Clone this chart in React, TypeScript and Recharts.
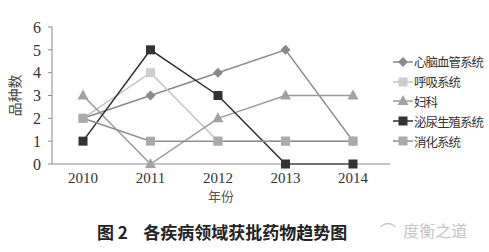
import { LineChart, Line, XAxis, YAxis, Label } from 'recharts';

const years = ['2010', '2011', '2012', '2013', '2014'];
const cardio = [2, 3, 4, 5, 1];
const respiratory = [2, 4, 1, 1, 1];
const gynecology = [3, 0, 2, 3, 3];
const urogenital = [1, 5, 3, 0, 0];
const digestive = [2, 1, 1, 1, 1];
const yTicks = [0, 1, 2, 3, 4, 5, 6];

const series = [
  { key: 'cardio', name: '心脑血管系统', values: cardio, stroke: '#8a8a8a', fill: '#8a8a8a', shape: 'diamond' },
  { key: 'respiratory', name: '呼吸系统', values: respiratory, stroke: '#c4c4c4', fill: '#cdcdcd', shape: 'square' },
  { key: 'gynecology', name: '妇科', values: gynecology, stroke: '#9c9c9c', fill: '#a2a2a2', shape: 'triangle' },
  { key: 'urogenital', name: '泌尿生殖系统', values: urogenital, stroke: '#2e2e2e', fill: '#333333', shape: 'square' },
  { key: 'digestive', name: '消化系统', values: digestive, stroke: '#8f8f8f', fill: '#aaaaaa', shape: 'square' }
];

const chartData = years.map((year, i) => {
  const row: Record<string, string | number> = { year };
  series.forEach((s) => {
    row[s.key] = s.values[i];
  });
  return row;
});

const Marker = ({ cx, cy, shape, fill }: { cx: number; cy: number; shape: string; fill: string }) => {
  if (cx == null || cy == null) return null;
  if (shape === 'diamond') {
    return <path d={`M${cx},${cy - 5}L${cx + 5},${cy}L${cx},${cy + 5}L${cx - 5},${cy}Z`} fill={fill} />;
  }
  if (shape === 'triangle') {
    return <path d={`M${cx},${cy - 6}L${cx + 5.5},${cy + 4}L${cx - 5.5},${cy + 4}Z`} fill={fill} />;
  }
  return <rect x={cx - 4.5} y={cy - 4.5} width={9} height={9} fill={fill} />;
};

const LegendBox = () => (
  <div
    style={{
      position: 'absolute',
      left: 393,
      top: 52,
      fontFamily: '"Noto Sans CJK SC", serif',
      fontSize: 12.5,
      letterSpacing: -1,
      color: '#333',
      whiteSpace: 'nowrap'
    }}
  >
    {series.map((s) => (
      <div key={s.key} style={{ display: 'flex', alignItems: 'center', height: 19.8 }}>
        <svg width={20} height={14}>
          <line x1={0} y1={7} x2={20} y2={7} stroke={s.stroke} strokeWidth={1.5} />
          <Marker cx={10} cy={7} shape={s.shape} fill={s.fill} />
        </svg>
        <span style={{ marginLeft: 1 }}>{s.name}</span>
      </div>
    ))}
  </div>
);

const App = () => {
  return (
    <div
      style={{
        position: 'fixed',
        left: 0,
        top: 0,
        width: 489,
        height: 252,
        background: '#fff',
        fontFamily: '"Liberation Serif", "Noto Sans CJK SC", serif'
      }}
    >
      <LineChart width={489} height={210} data={chartData} margin={{ top: 27, right: 99, bottom: 16, left: 0 }}>
        <XAxis
          dataKey="year"
          height={30}
          axisLine={{ stroke: '#888' }}
          tickLine={false}
          padding={{ left: 31, right: 37 }}
          tick={{ fill: '#333', fontSize: 15, fontFamily: '"Liberation Serif", serif' }}
          tickMargin={2}
        >
          <Label
            value="年份"
            position="insideBottom"
            offset={-7}
            fill="#555"
            fontSize={13}
            fontFamily='"Noto Sans CJK SC", serif'
          />
        </XAxis>
        <YAxis
          width={52}
          domain={[0, 6]}
          ticks={yTicks}
          interval={0}
          axisLine={{ stroke: '#888' }}
          tickLine={{ stroke: '#888' }}
          tickSize={4}
          tick={{ fill: '#333', fontSize: 16, fontFamily: '"Liberation Serif", serif' }}
          tickMargin={7}
        >
          <Label
            value="品种数"
            angle={-90}
            position="center"
            dx={-11}
            fill="#444"
            fontSize={14}
            fontFamily='"Noto Sans CJK SC", serif'
          />
        </YAxis>
        {series.map((s) => (
          <Line
            key={s.key}
            dataKey={s.key}
            name={s.name}
            type="linear"
            stroke={s.stroke}
            strokeWidth={1.5}
            isAnimationActive={false}
            dot={(props: any) => (
              <Marker key={`${s.key}-${props.index}`} cx={props.cx} cy={props.cy} shape={s.shape} fill={s.fill} />
            )}
            activeDot={false}
          />
        ))}
      </LineChart>
      <LegendBox />
      <div
        style={{
          position: 'absolute',
          left: 97,
          top: 219,
          fontFamily: '"Noto Sans CJK SC", serif',
          fontWeight: 'bold',
          fontSize: 17,
          color: '#222',
          whiteSpace: 'pre'
        }}
      >
        {'图 2    各疾病领域获批药物趋势图'}
      </div>
      <div
        style={{
          position: 'absolute',
          left: 380,
          top: 218,
          fontFamily: '"Noto Sans CJK SC", sans-serif',
          fontSize: 16,
          color: '#c4c4c4',
          whiteSpace: 'pre'
        }}
      >
        {'⌒  度衡之道'}
      </div>
    </div>
  );
};

export default App;
